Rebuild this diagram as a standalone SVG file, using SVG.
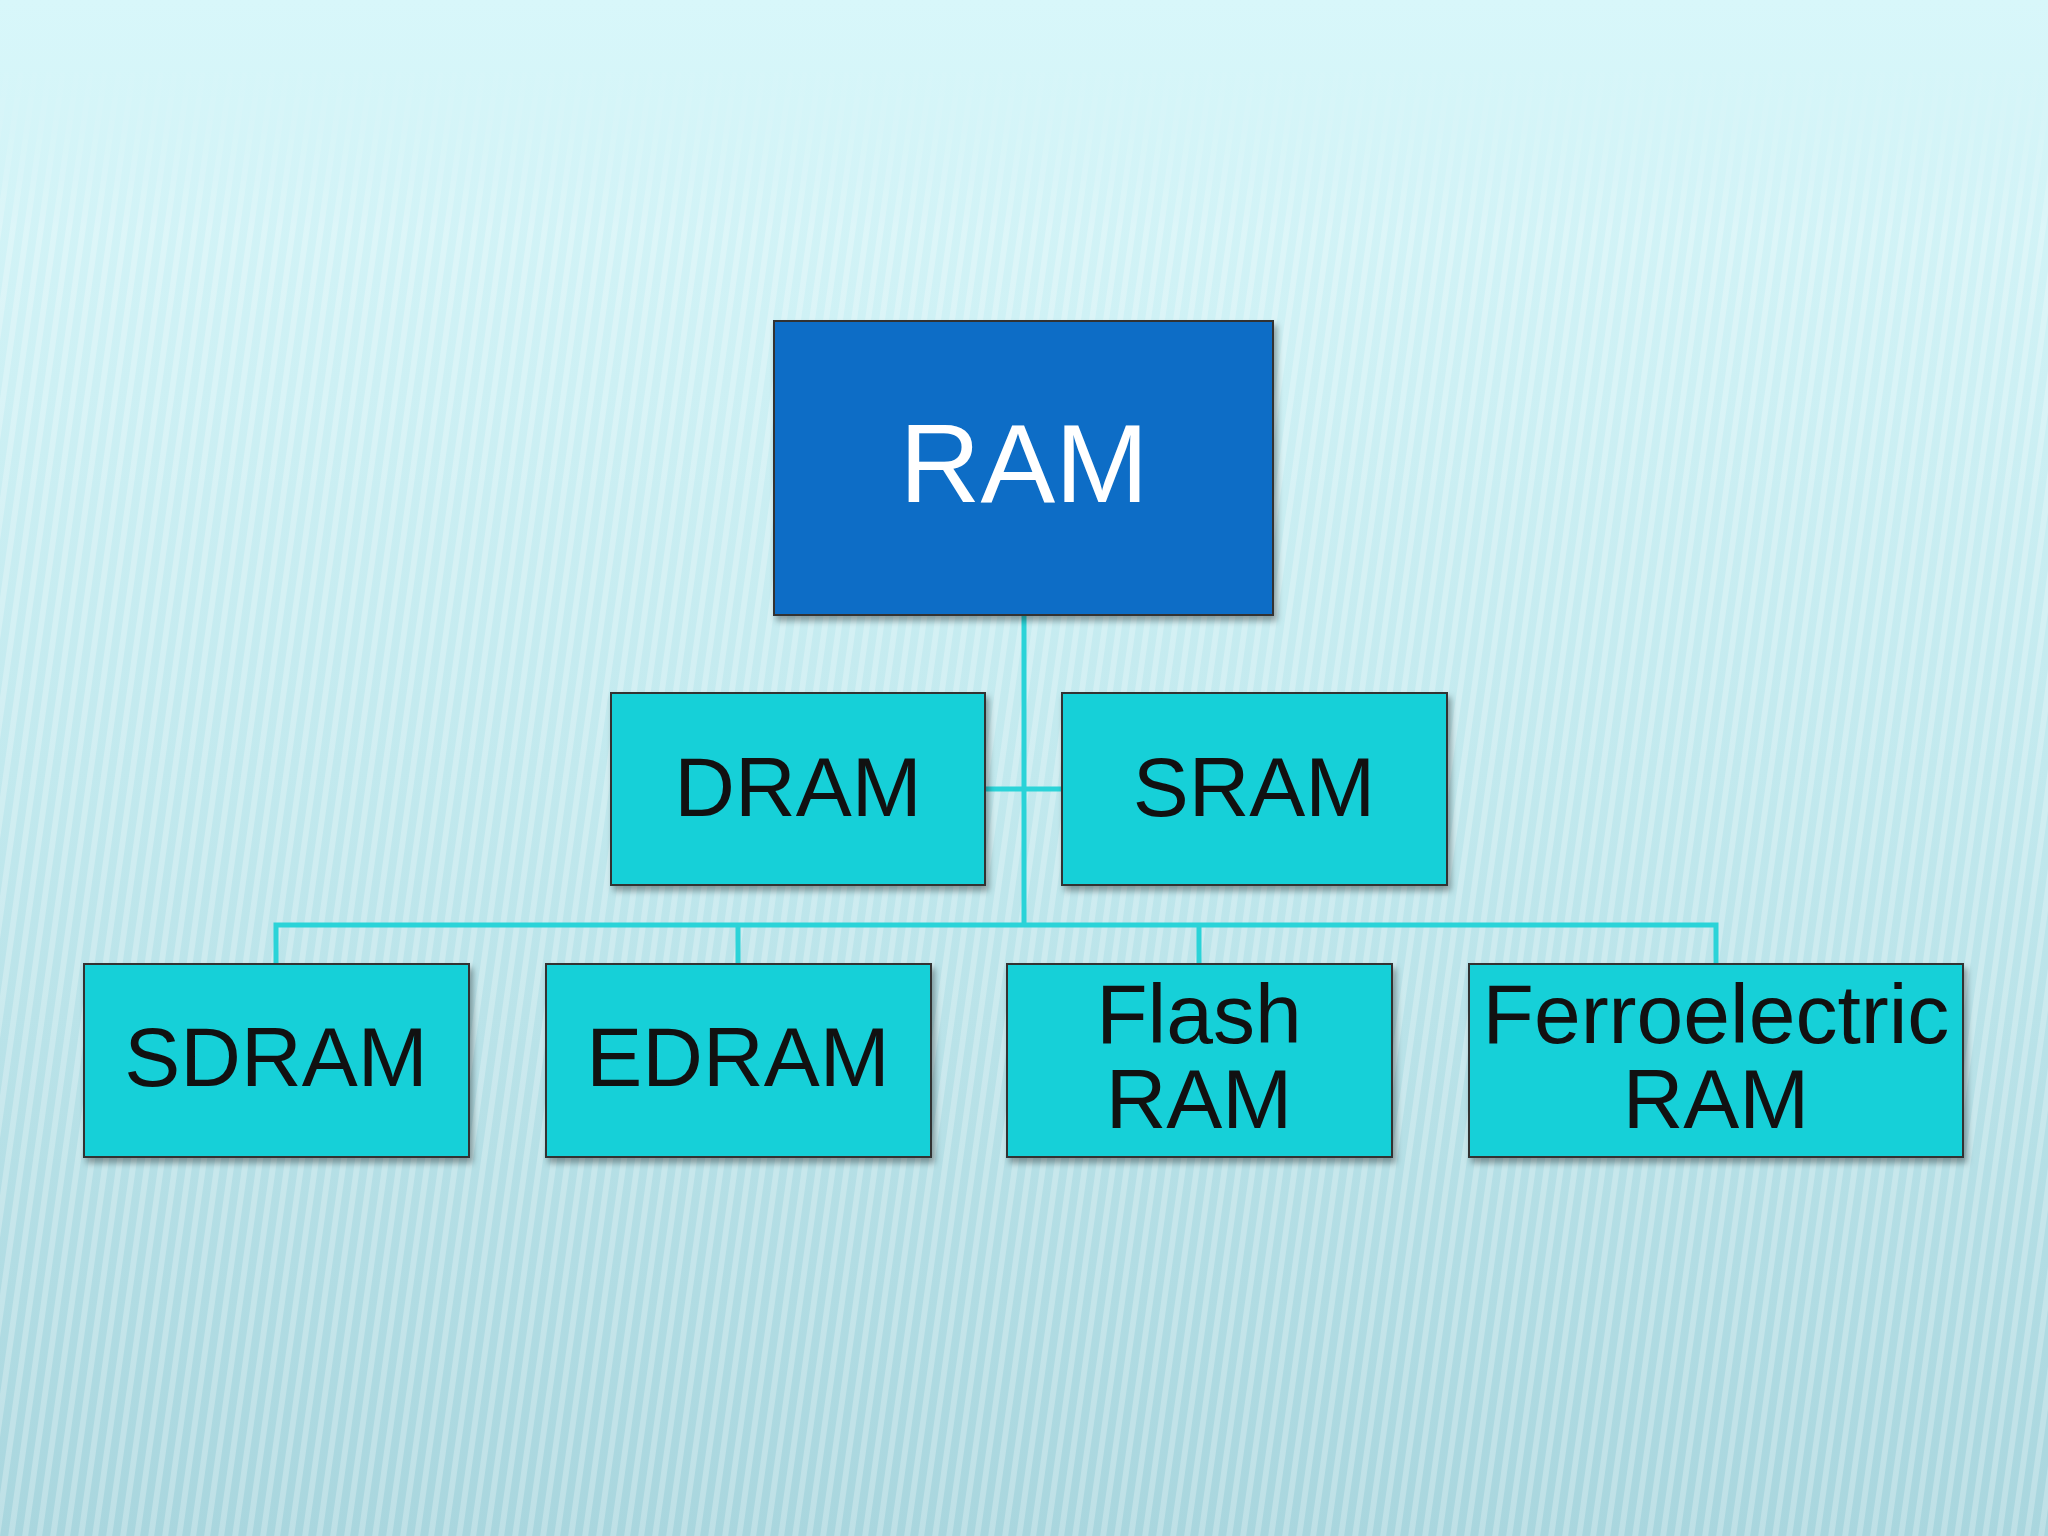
<svg xmlns="http://www.w3.org/2000/svg" width="2048" height="1536" viewBox="0 0 2048 1536">
<defs>
<linearGradient id="bg" x1="0" y1="0" x2="0" y2="1">
<stop offset="0" stop-color="#d8f7fa"/><stop offset="0.5" stop-color="#c2e9ee"/><stop offset="1" stop-color="#a9d6de"/>
</linearGradient>
<pattern id="str" width="14" height="40" patternUnits="userSpaceOnUse" patternTransform="skewX(-8)">
<rect x="0" y="0" width="6" height="40" fill="#ffffff" opacity="0.25"/>
</pattern>
<linearGradient id="fade" x1="0" y1="0" x2="0" y2="1">
<stop offset="0" stop-color="#000" stop-opacity="0"/><stop offset="0.15" stop-color="#fff" stop-opacity="1"/><stop offset="1" stop-color="#fff" stop-opacity="1"/>
</linearGradient>
<mask id="m"><rect width="2048" height="1536" fill="url(#fade)"/></mask>
<filter id="sh" x="-5%" y="-5%" width="115%" height="120%"><feDropShadow dx="3" dy="5" stdDeviation="3" flood-color="#000" flood-opacity="0.35"/></filter>
</defs>
<style>
.b{stroke:#333;stroke-width:2;filter:url(#sh)}
.c{fill:#12d0d8}
.t{font-family:"Liberation Sans",Arial,sans-serif;font-size:84px;fill:#111;text-anchor:middle}
.con{stroke:#2ad3d8;stroke-width:5;fill:none}
</style>
<rect width="2048" height="1536" fill="url(#bg)"/>
<rect width="2048" height="1536" fill="url(#str)" mask="url(#m)"/>
<g id="connectors" class="con">
<path d="M1024 615V925M985 789H1062M276 964V925H1716V964M738 925V964M1199 925V964"/>
</g>
<g id="ram"><rect class="b" x="774" y="321" width="499" height="294" fill="#0f6dc6"/>
<text x="1024" y="502" font-family="Liberation Sans,Arial,sans-serif" font-size="112" fill="#fff" text-anchor="middle">RAM</text></g>
<g id="dram"><rect class="b c" x="611" y="693" width="374" height="192"/><text class="t" x="798" y="816">DRAM</text></g>
<g id="sram"><rect class="b c" x="1062" y="693" width="385" height="192"/><text class="t" x="1254" y="816">SRAM</text></g>
<g id="sdram"><rect class="b c" x="84" y="964" width="385" height="193"/><text class="t" x="276" y="1086">SDRAM</text></g>
<g id="edram"><rect class="b c" x="546" y="964" width="385" height="193"/><text class="t" x="738" y="1086">EDRAM</text></g>
<g id="flash"><rect class="b c" x="1007" y="964" width="385" height="193"/><text class="t" x="1199" y="1043">Flash</text><text class="t" x="1199" y="1128">RAM</text></g>
<g id="ferro"><rect class="b c" x="1469" y="964" width="494" height="193"/><text class="t" x="1716" y="1043">Ferroelectric</text><text class="t" x="1716" y="1128">RAM</text></g>
</svg>
